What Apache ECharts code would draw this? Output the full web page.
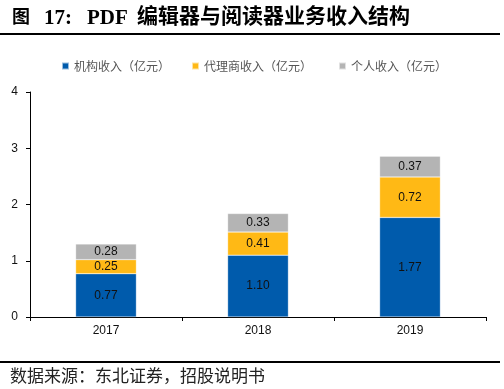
<!DOCTYPE html>
<html><head><meta charset="utf-8">
<script src="https://cdn.jsdelivr.net/npm/echarts@6/dist/echarts.min.js"></script>
<style>html,body{margin:0;padding:0;background:#fff}#c{width:504px;height:389px}</style>
</head><body><div id="c"></div>
<script>
const categories = ['2017', '2018', '2019'];
const institutional = [0.77, 1.10, 1.77];
const agency = [0.25, 0.41, 0.72];
const personal = [0.28, 0.33, 0.37];
const seriesNames = ['机构收入（亿元）', '代理商收入（亿元）', '个人收入（亿元）'];
const yTicks = [0, 1, 2, 3, 4];

const colors = ['#005BAC', '#FFB915', '#B4B4B4'];
const legendLefts = [61, 191, 338];
const chart = echarts.init(document.getElementById('c'));
const lbl = {show: true, position: 'inside', color: '#111', fontSize: 12, fontFamily: 'Liberation Sans, Arial, sans-serif',
  formatter: p => p.value.toFixed(2)};
const mk = (name, data, i) => ({name, type: 'bar', stack: 's', data, barWidth: '40%',
  itemStyle: {color: colors[i], borderColor: 'rgba(255,255,255,0.6)', borderWidth: 0.5}, label: lbl});
chart.setOption({
  animation: false,
  textStyle: {fontFamily: 'Liberation Sans, Arial, sans-serif'},
  legend: seriesNames.map((n, i) => ({top: 60, left: legendLefts[i], itemWidth: 7, itemHeight: 7, icon: 'rect', padding: 0,
    textStyle: {fontSize: 12, color: '#555', fontFamily: 'Noto Sans CJK SC'}, data: [n]})),
  grid: {left: 30, right: 18, top: 92, bottom: 72},
  xAxis: {type: 'category', data: categories,
    axisLine: {lineStyle: {color: '#000', width: 1}},
    axisTick: {show: true, length: 4, lineStyle: {color: '#000'}},
    axisLabel: {color: '#111', fontSize: 12, margin: 8}},
  yAxis: {type: 'value', min: yTicks[0], max: yTicks[yTicks.length - 1], interval: 1,
    axisLine: {show: true, lineStyle: {color: '#000'}},
    axisTick: {show: true, length: 4, lineStyle: {color: '#000'}},
    splitLine: {show: false},
    axisLabel: {color: '#111', fontSize: 12, margin: 12}},
  series: [mk(seriesNames[0], institutional, 0), mk(seriesNames[1], agency, 1), mk(seriesNames[2], personal, 2)],
  graphic: [
    {type: 'text', left: 12, top: 7, style: {text: '图', font: 'bold 18px "Noto Sans CJK SC"', fill: '#000'}},
    {type: 'text', left: 44, top: 8, style: {text: '17:', font: 'bold 21px "Liberation Serif"', fill: '#000'}},
    {type: 'text', left: 87, top: 8, style: {text: 'PDF', font: 'bold 21px "Liberation Serif"', fill: '#000'}},
    {type: 'text', left: 137, top: 5, style: {text: '编辑器与阅读器业务收入结构', font: 'bold 21px "Noto Sans CJK SC"', fill: '#000'}},
    {type: 'rect', shape: {x: 0, y: 33, width: 500, height: 2}, style: {fill: '#000'}},
    {type: 'rect', shape: {x: 0, y: 361, width: 500, height: 2}, style: {fill: '#000'}},
    {type: 'text', left: 10, top: 367, style: {text: '数据来源：东北证券，招股说明书', font: '17px "Noto Sans CJK SC"', fill: '#222'}}
  ]
});
</script></body></html>
